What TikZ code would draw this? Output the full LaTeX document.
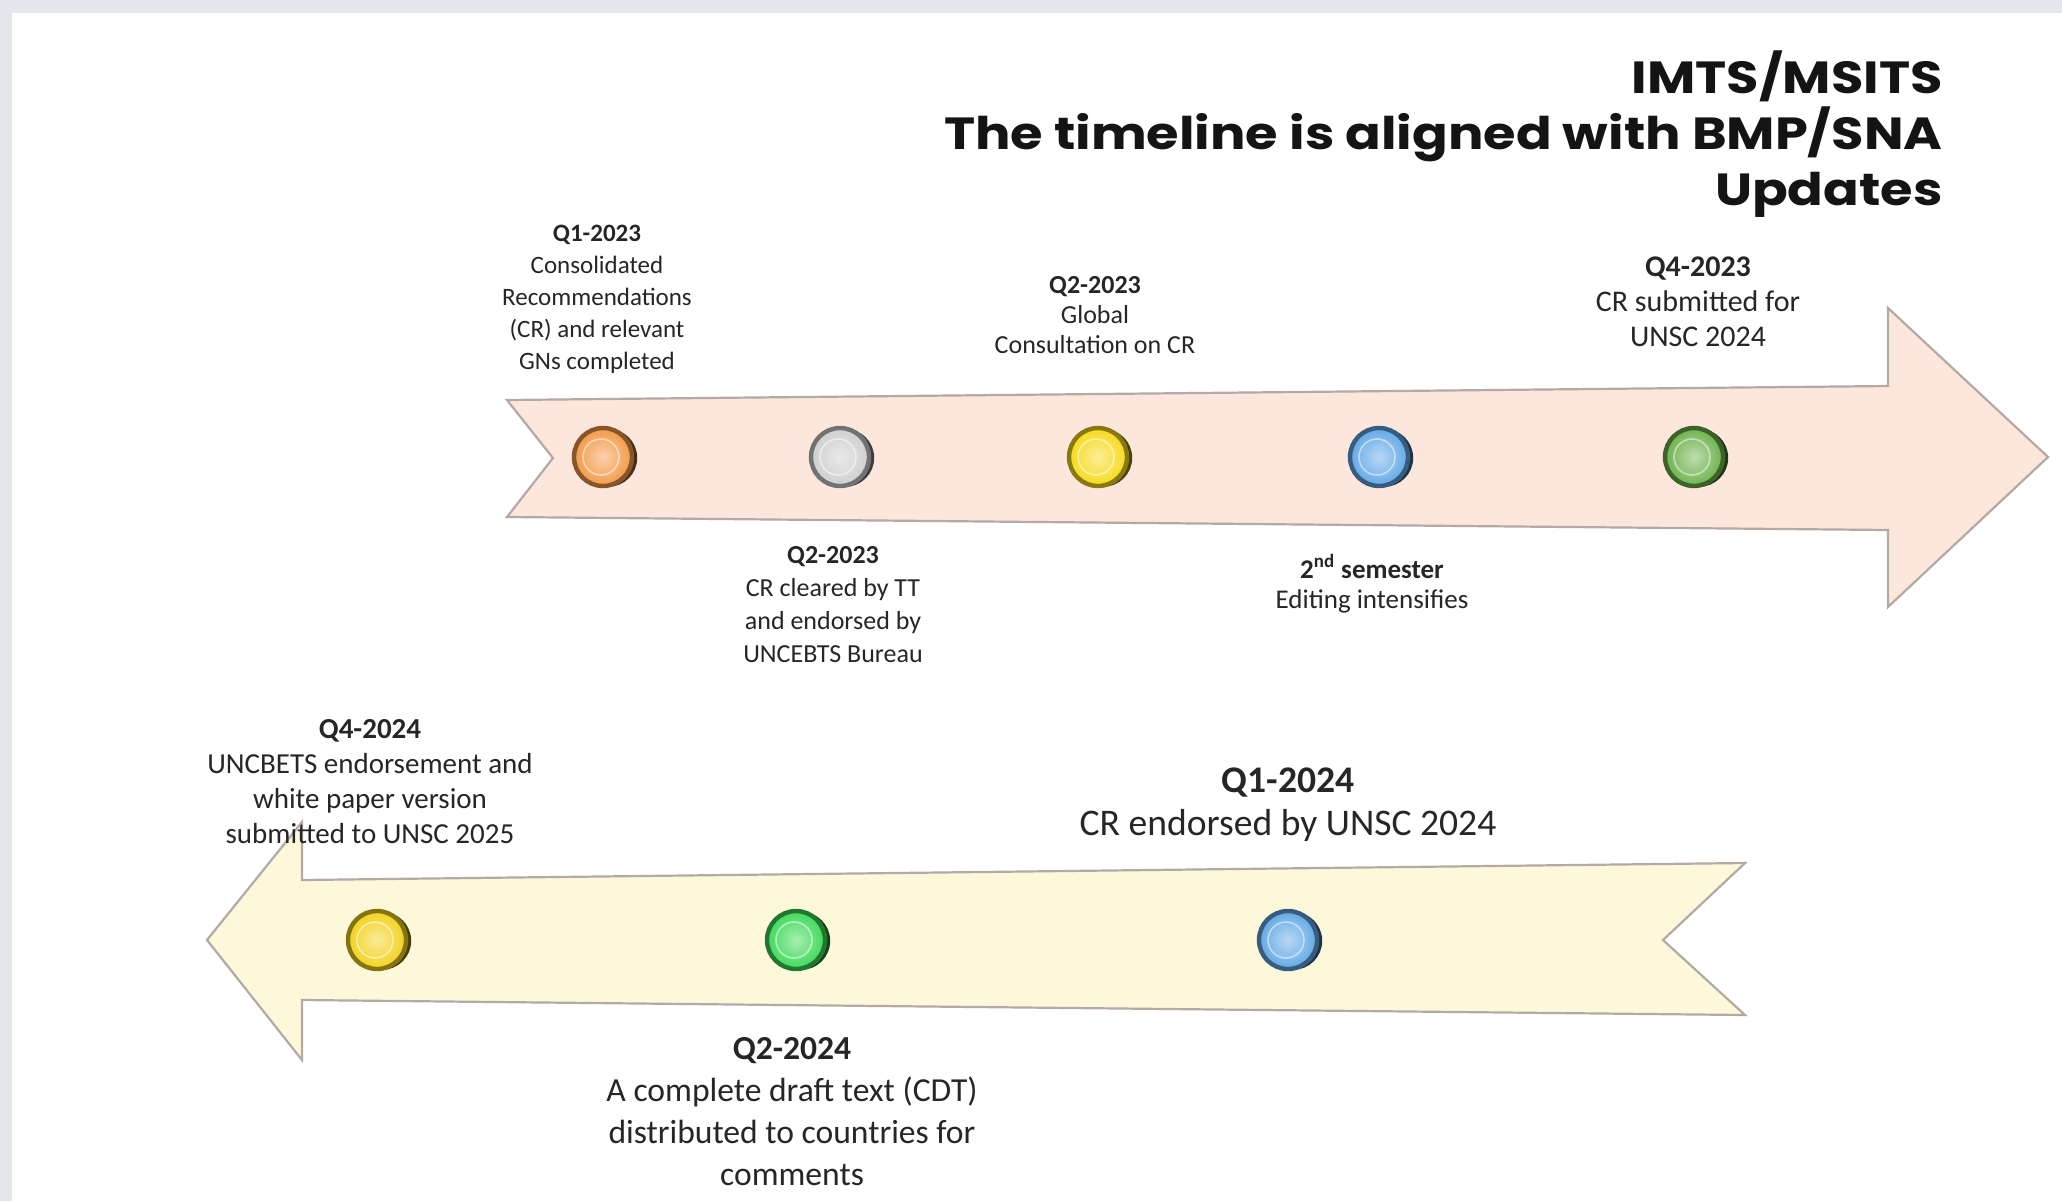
\documentclass[tikz,border=0pt]{standalone}
\usepackage{fontspec}
\setmainfont{Carlito}
\newfontfamily\titlefont{Poppins}[FakeStretch=1.17]
\usetikzlibrary{positioning, shadows}
\definecolor{frame}{HTML}{E3E6EA}
\definecolor{peach}{HTML}{FDE6DC}
\definecolor{cream}{HTML}{FEF8DB}
\definecolor{rim}{HTML}{B3AAA5}
\definecolor{ink}{HTML}{262626}
\definecolor{dotorange}{HTML}{F39A48}
\definecolor{dotgrey}{HTML}{CFCFCF}
\definecolor{dotyellow}{HTML}{F6DA1C}
\definecolor{dotblue}{HTML}{63A9E6}
\definecolor{dotgreen}{HTML}{6DB24C}
\definecolor{dotlime}{HTML}{3ED957}
\definecolor{dotgold}{HTML}{F2D21E}
\tikzset{%
	dot/.style={circle, minimum size=29pt, inner sep=0pt, line width=2.2pt,
		draw=#1!55!black, inner color=#1!45!white, outer color=#1,
		general shadow={shadow xshift=2.6pt, shadow yshift=-0.4pt, fill=#1!30!black},
		path picture={\draw[white, opacity=.5, line width=.8pt]
			([xshift=-1pt]path picture bounding box.center) circle (9pt);}},
	lbl/.style 2 args={align=center, inner sep=0pt, text=ink,
		font=\fontsize{#1}{#2}\selectfont},
	band/.style={draw=rim, line width=1.1pt, line join=miter},
	heading/.style={align=right, inner sep=0pt, text=black!92,
		font=\titlefont\bfseries\fontsize{22.5}{28}\selectfont}
}
\begin{document}
\begin{tikzpicture}[x=0.5pt, y=-0.5pt]
	\useasboundingbox (0,0) rectangle (2062,1201);
	\fill[frame] (0,0) rectangle (2062,1201);
	\fill[white] (12,13) rectangle (2062,1201);

	% the two bands
	\draw[band, fill=peach] (507,400) -- (1888,386) -- (1888,308) -- (2048,457)
		-- (1888,607) -- (1888,530) -- (507,517) -- (553,458) -- cycle;
	\draw[band, fill=cream] (1745,863) -- (302,880) -- (302,822) -- (207,940)
		-- (302,1060) -- (302,1000) -- (1745,1015) -- (1663,940) -- cycle;

	\node[heading, anchor=north east] (title) at (1943,50)
		{IMTS/MSITS\\The timeline is aligned with BMP/SNA\\Updates};

	% 2023
	\node[dot=dotorange] (q1a) at (603,457) {};
	\node[dot=dotgrey] (q2a) at (840,457) {};
	\node[dot=dotyellow] (q3a) at (1098,457) {};
	\node[dot=dotblue] (q4a) at (1379,457) {};
	\node[dot=dotgreen] (q5a) at (1694,457) {};

	\node[lbl={12.5}{16}, above=26pt of q1a, xshift=-3pt] (t1)
		{\textbf{Q1-2023}\\Consolidated\\Recommendations\\(CR) and relevant\\GNs completed};
	\node[lbl={13}{16.5}, below=29pt of q2a, xshift=-3.5pt] (t2)
		{\textbf{Q2-2023}\\CR cleared by TT\\and endorsed by\\UNCEBTS Bureau};
	\node[lbl={13}{15}, above=36pt of q3a, xshift=-1.5pt] (t3)
		{\textbf{Q2-2023}\\Global\\Consultation on CR};
	\node[lbl={13.5}{15}, below=33pt of q4a, xshift=-3.5pt] (t4)
		{\textbf{2\textsuperscript{nd} semester}\\Editing intensifies};
	\node[lbl={15}{17.5}, above=39.5pt of q5a, xshift=2pt] (t5)
		{\textbf{Q4-2023}\\CR submitted for\\UNSC 2024};

	% 2024
	\node[dot=dotgold] (q4b) at (377,940) {};
	\node[dot=dotlime] (q2b) at (796,940) {};
	\node[dot=dotblue] (q1b) at (1288,940) {};

	\node[lbl={14.5}{17.5}, above=32.5pt of q4b, xshift=-3.5pt] (t6)
		{\textbf{Q4-2024}\\UNCBETS endorsement and\\white paper version\\submitted to UNSC 2025};
	\node[lbl={18.8}{21.5}, above=33.5pt of q1b] (t7)
		{\textbf{Q1-2024}\\CR endorsed by UNSC 2024};
	\node[lbl={16.8}{21}, below=33pt of q2b, xshift=-2pt] (t8)
		{\textbf{Q2-2024}\\A complete draft text (CDT)\\distributed to countries for\\comments};
\end{tikzpicture}
\end{document}
